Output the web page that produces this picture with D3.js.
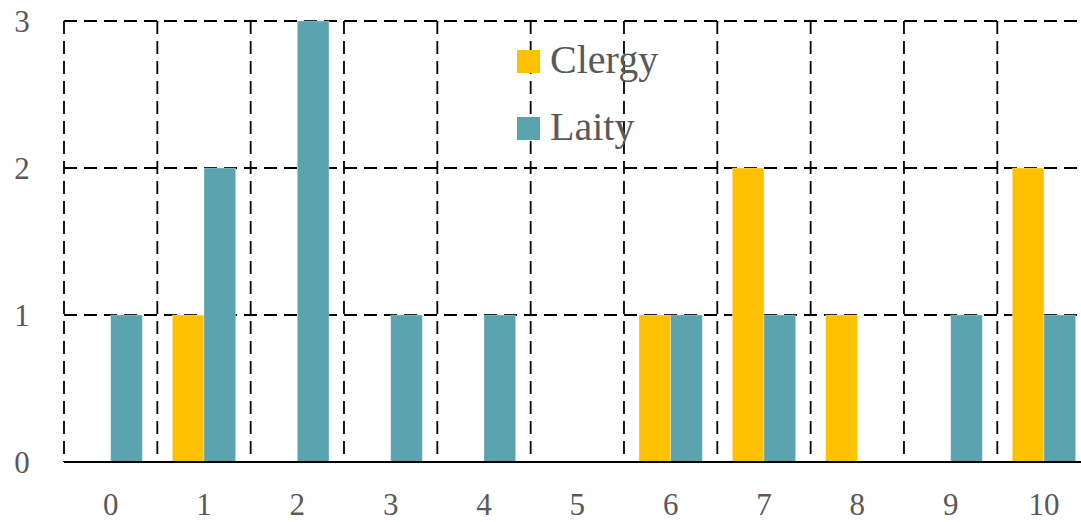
<!DOCTYPE html>
<html>
<head>
<meta charset="utf-8">
<script src="https://cdn.jsdelivr.net/npm/d3@7"></script>
<style>
  body { margin: 0; background: #fff; }
  svg { display: block; }
  text { font-family: "Liberation Serif", "DejaVu Serif", serif; fill: #595959; }
</style>
</head>
<body>
<div id="chart"></div>
<script>
const categories = ["0", "1", "2", "3", "4", "5", "6", "7", "8", "9", "10"];
const seriesNames = ["Clergy", "Laity"];
const clergy = [0, 1, 0, 0, 0, 0, 1, 2, 1, 0, 2];
const laity = [1, 2, 3, 1, 1, 0, 1, 1, 0, 1, 1];
const yTicks = [0, 1, 2, 3];
const colors = ["#FFC000", "#5BA3AE"];

const width = 1081;
const height = 522;
const margin = {top: 21, left: 64, bottom: 60};
const step = 93.33;

const svg = d3.select("#chart").append("svg")
  .attr("width", width)
  .attr("height", height);

const xScale = d3.scaleBand()
  .domain(categories)
  .range([margin.left, margin.left + step * categories.length])
  .padding(0);
const inner = d3.scaleBand()
  .domain(seriesNames)
  .range([15, step - 15])
  .padding(0);
const yScale = d3.scaleLinear()
  .domain([0, 3])
  .range([height - margin.bottom, margin.top]);

const grid = svg.append("g").attr("class", "grid");
grid.selectAll("line.h")
  .data(yTicks.filter((d) => d > 0))
  .enter().append("line")
  .attr("x1", margin.left).attr("x2", width)
  .attr("y1", (d) => yScale(d)).attr("y2", (d) => yScale(d))
  .attr("stroke", "#000").attr("stroke-width", 1.8)
  .attr("stroke-dasharray", "13,7");
grid.selectAll("line.v")
  .data(categories)
  .enter().append("line")
  .attr("x1", (d) => xScale(d)).attr("x2", (d) => xScale(d))
  .attr("y1", yScale(3)).attr("y2", yScale(0))
  .attr("stroke", "#000").attr("stroke-width", 1.8)
  .attr("stroke-dasharray", "13,7");

const rows = categories.map((c, i) => ({cat: c, values: [
  {name: "Clergy", value: clergy[i]},
  {name: "Laity", value: laity[i]}
]}));

const groups = svg.selectAll("g.cat")
  .data(rows)
  .enter().append("g")
  .attr("class", "cat")
  .attr("transform", (d) => `translate(${xScale(d.cat)},0)`);
groups.selectAll("rect")
  .data((d) => d.values.filter((v) => v.value > 0))
  .enter().append("rect")
  .attr("x", (d) => inner(d.name))
  .attr("width", inner.bandwidth())
  .attr("y", (d) => yScale(d.value))
  .attr("height", (d) => yScale(0) - yScale(d.value))
  .attr("fill", (d) => colors[seriesNames.indexOf(d.name)])
  .attr("stroke", "#fff").attr("stroke-opacity", 0.4).attr("stroke-width", 0.75);

svg.append("line")
  .attr("x1", margin.left).attr("x2", width)
  .attr("y1", yScale(0)).attr("y2", yScale(0))
  .attr("stroke", "#000").attr("stroke-width", 2.2);

svg.selectAll("text.ytick")
  .data(yTicks)
  .enter().append("text")
  .attr("class", "ytick")
  .attr("x", 22).attr("y", (d) => yScale(d) + 11)
  .attr("text-anchor", "middle")
  .style("font-size", "31px")
  .text((d) => d);

svg.selectAll("text.xtick")
  .data(categories)
  .enter().append("text")
  .attr("class", "xtick")
  .attr("x", (d) => xScale(d) + xScale.bandwidth() / 2)
  .attr("y", 515)
  .attr("text-anchor", "middle")
  .style("font-size", "31px")
  .text((d) => d);

const legend = svg.append("g").attr("transform", "translate(517,50)");
const items = legend.selectAll("g")
  .data(seriesNames)
  .enter().append("g")
  .attr("transform", (d, i) => `translate(0,${i * 67})`);
items.append("rect")
  .attr("width", 23).attr("height", 23)
  .attr("fill", (d, i) => colors[i]);
items.append("text")
  .attr("x", 33).attr("y", 23)
  .style("font-size", "40px")
  .text((d) => d);
</script>
</body>
</html>
